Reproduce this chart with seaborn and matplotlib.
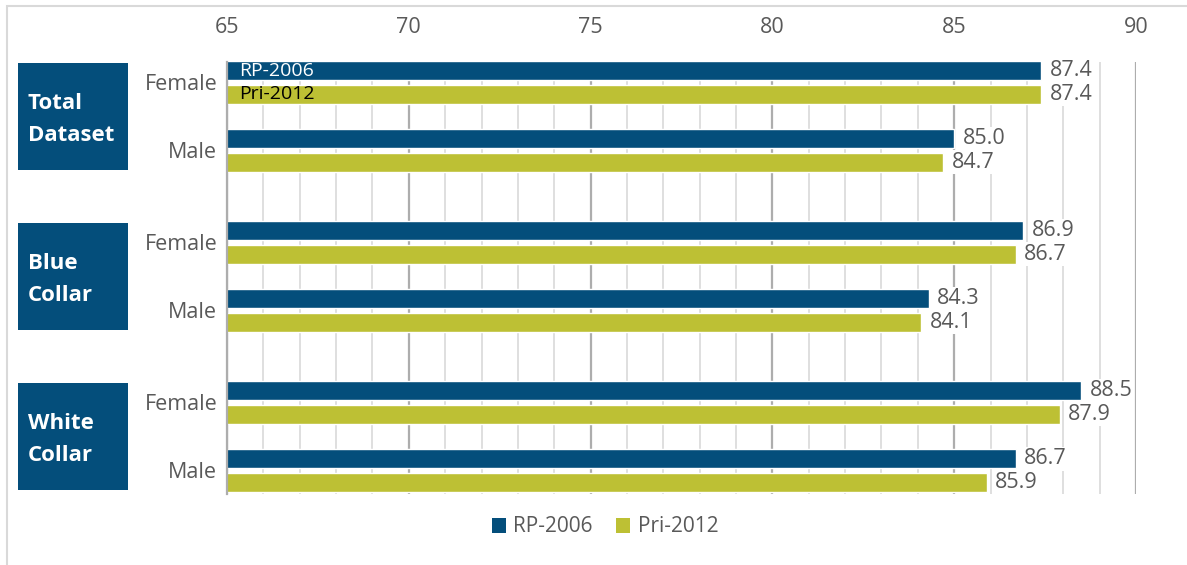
import matplotlib
matplotlib.use("Agg")
import matplotlib.pyplot as plt
import matplotlib.transforms as mtransforms
from matplotlib.patches import Rectangle, Patch
import seaborn as sns
import pandas as pd

# ---------------- data ----------------
groups = ["Total\nDataset", "Blue\nCollar", "White\nCollar"]
genders = ["Female", "Male"]
series = ["RP-2006", "Pri-2012"]
rp2006 = [87.4, 85.0, 86.9, 84.3, 88.5, 86.7]
pri2012 = [87.4, 84.7, 86.7, 84.1, 87.9, 85.9]
x_ticks = [65, 70, 75, 80, 85, 90]

BLUE = "#044E7B"
GREEN = "#BDC034"
GRAY_TXT = "#595959"

# layout: category positions (group pitch 2.353 category units)
group_pitch = 2.353
positions = [g * group_pitch + k for g in range(len(groups)) for k in range(len(genders))]

df = pd.DataFrame({
    "value": rp2006 + pri2012,
    "pos": positions * 2,
    "series": [series[0]] * len(rp2006) + [series[1]] * len(pri2012),
})

sns.set_theme(style="white")
plt.rcParams["font.family"] = ["Open Sans", "DejaVu Sans"]

W, H = 1187, 565
fig = plt.figure(figsize=(W / 100, H / 100), dpi=100)
ax = fig.add_axes([227 / W, 1 - 494 / H, (1136 - 227) / W, (494 - 62) / H])

sns.barplot(data=df, x="value", y="pos", hue="series", hue_order=series,
            orient="y", native_scale=True, width=0.69, gap=0.2,
            palette=[BLUE, GREEN], saturation=1, errorbar=None,
            legend=False, ax=ax)

ax.set_xlim(65, 90)
ax.set_ylim(6.052, -0.301)

# grid
ax.set_xticks(x_ticks)
ax.set_xticks(range(65, 91), minor=True)
ax.grid(which="minor", axis="x", color="#DCDCDC", lw=1.3)
ax.grid(which="major", axis="x", color="#ADADAD", lw=1.6)
ax.grid(axis="y", visible=False)
ax.set_axisbelow(True)

ax.xaxis.tick_top()
ax.tick_params(axis="x", which="both", length=0, pad=17, labelsize=15.5, labelcolor=GRAY_TXT)
ax.set_yticks(positions)
ax.set_yticklabels(genders * len(groups))
ax.tick_params(axis="y", length=0, pad=7, labelsize=15.5, labelcolor=GRAY_TXT)
ax.set_xlabel("")
ax.set_ylabel("")

for s in ["top", "right", "bottom"]:
    ax.spines[s].set_visible(False)
ax.spines["left"].set_color("#ADADAD")
ax.spines["left"].set_linewidth(1.6)

# value labels
for cont in ax.containers:
    ax.bar_label(cont, fmt="%.1f", padding=6, fontsize=15.5, color=GRAY_TXT,
                 bbox=dict(facecolor="white", edgecolor="none", pad=1.0))

# in-bar series names on first category
for cont, name, col in zip(ax.containers, series, ["white", "black"]):
    p = cont.patches[0]
    ax.annotate(name, xy=(65, p.get_y() + p.get_height() / 2),
                xytext=(9, 0), textcoords="offset points",
                va="center", ha="left", fontsize=14, color=col)

# group boxes
trans = mtransforms.blended_transform_factory(fig.transFigure, ax.transData)
for g, name in enumerate(groups):
    c = g * group_pitch + 0.5
    fig.patches.append(Rectangle((18 / W, c - 0.78), (128 - 18) / W, 1.56,
                                 transform=trans, facecolor=BLUE, edgecolor="none"))
    fig.text(28 / W, c + 0.04, name, transform=trans, ha="left", va="center",
             color="white", fontsize=16, fontweight="bold", linespacing=1.68)

# legend
handles = [Patch(facecolor=BLUE, edgecolor="none"), Patch(facecolor=GREEN, edgecolor="none")]
fig.legend(handles, series, loc="center", bbox_to_anchor=(605 / W, 1 - 527 / H),
           ncol=2, frameon=False, fontsize=15, labelcolor=GRAY_TXT,
           handlelength=0.7, handleheight=0.7, handletextpad=0.35, columnspacing=1.1)

# outer border
fig.patches.append(Rectangle((7 / W, -0.1), 2, (H - 6) / H + 0.1, transform=fig.transFigure,
                             fill=False, edgecolor="#D9D9D9", lw=1.5))

fig.savefig("out.png", dpi=100, facecolor="white")
